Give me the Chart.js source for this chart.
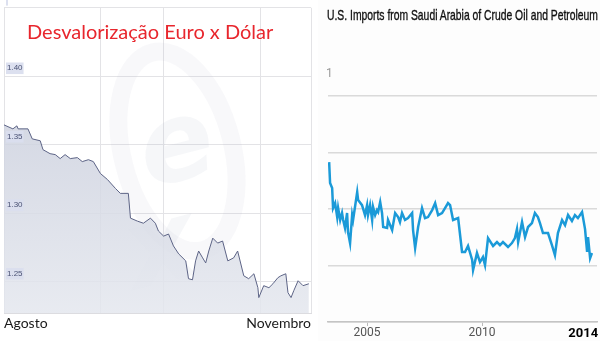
<!DOCTYPE html>
<html>
<head>
<meta charset="utf-8">
<script src="https://cdn.jsdelivr.net/npm/chart.js@4.4.0/dist/chart.umd.min.js"></script>
<style>
  body { margin: 0; width: 600px; height: 341px; position: relative; overflow: hidden; background: #fff; }
  .box { position: absolute; top: 0; height: 341px; }
  #leftBox { left: 0; width: 318px; }
  #rightBox { left: 318px; width: 282px; background: #fdfdfd; }
  .title1 { position: absolute; left: 27px; top: 19px; font: 20px Lato, sans-serif; color: #e8262d; white-space: nowrap; }
  .title2 { position: absolute; left: 327px; top: 6px; width: 273px; overflow: hidden; white-space: nowrap; }
  .title2 span { display: inline-block; transform: scaleX(0.69); transform-origin: 0 0; font: 15px "Liberation Sans", Arial, sans-serif; color: #111; -webkit-text-stroke: 0.35px #111; }
</style>
</head>
<body>
<div class="box" id="leftBox"><canvas id="eurChart"></canvas></div>
<div class="box" id="rightBox"><canvas id="impChart"></canvas></div>
<div class="title1">Desvalorização Euro x Dólar</div>
<div class="title2"><span>U.S. Imports from Saudi Arabia of Crude Oil and Petroleum Products</span></div>
<script>
// left chart: EUR/USD, days since start of August
const eurDays = [0, 2.9, 4.2, 4.6, 7.8, 9.2, 11.8, 12.7, 15.0, 16.7, 18.3, 19.9, 21.6, 23.9, 25.5, 27.5, 29.1,
  31.4, 33.7, 36.3, 37.9, 40.5, 41.2, 43.5, 45.4, 47.7, 49.3, 50.3, 52.0, 53.6, 55.2, 56.9, 59.2, 60.1,
  61.4, 62.4, 63.4, 64.7, 65.7, 66.7, 68.0, 69.6, 71.2, 72.9, 74.8, 76.1, 78.1, 79.7, 81.4, 82.7, 83.0,
  84.6, 86.3, 87.6, 89.2, 90.2, 91.8, 92.5, 93.5, 94.4, 95.8, 97.4, 99.3];
const eurRates = [1.3645, 1.3616, 1.3638, 1.3616, 1.3616, 1.3543, 1.3529, 1.3464, 1.3435, 1.3428, 1.3399, 1.3428, 1.3399, 1.3406, 1.3377, 1.3391, 1.3377,
  1.3290, 1.3246, 1.3181, 1.3145, 1.3145, 1.2964, 1.2942, 1.2927, 1.2964, 1.2927, 1.2870, 1.2833, 1.2848, 1.2761, 1.2703, 1.2652, 1.2522,
  1.2514, 1.2652, 1.2724, 1.2674, 1.2637, 1.2724, 1.2818, 1.2782, 1.2797, 1.2652, 1.2674, 1.2724, 1.2543, 1.2522, 1.2558, 1.2456, 1.2384,
  1.2471, 1.2456, 1.2485, 1.2529, 1.2543, 1.2558, 1.2420, 1.2384, 1.2435, 1.2507, 1.2471, 1.2485];
const eurRateTicks = [1.25, 1.30, 1.35, 1.40];
const eurMonthLabels = ['Agosto', 'Novembro'];
const eurGridDays = [31.4, 52, 83.7];

// right chart: imports, thousand barrels per day
const impYears = [2003.35, 2003.39, 2003.48, 2003.52, 2003.61, 2003.70, 2003.74, 2003.83, 2003.91, 2003.96, 2004.04, 2004.13, 2004.17, 2004.26,
  2004.35, 2004.39, 2004.57, 2004.61, 2004.78, 2004.91, 2005.00, 2005.04, 2005.13, 2005.22, 2005.26, 2005.35, 2005.43, 2005.48, 2005.57,
  2005.65, 2005.70, 2005.87, 2005.91, 2006.09, 2006.22, 2006.35, 2006.43, 2006.52, 2006.65, 2006.78, 2006.96, 2007.00, 2007.09, 2007.22,
  2007.39, 2007.52, 2007.65, 2007.83, 2007.96, 2008.09, 2008.26, 2008.39, 2008.52, 2008.61, 2008.74, 2008.96, 2009.13, 2009.26, 2009.39,
  2009.57, 2009.61, 2009.78, 2009.91, 2010.04, 2010.13, 2010.26, 2010.48, 2010.65, 2010.78, 2010.91, 2011.13, 2011.30, 2011.43, 2011.52,
  2011.57, 2011.74, 2011.87, 2012.00, 2012.17, 2012.30, 2012.43, 2012.52, 2012.65, 2012.87, 2013.04, 2013.17, 2013.30, 2013.48, 2013.61,
  2013.74, 2013.91, 2014.04, 2014.17, 2014.35, 2014.48, 2014.57, 2014.61, 2014.70, 2014.78];
const impValues = [1416, 1230, 1186, 1009, 1053, 929, 1009, 903, 965, 903, 832, 965, 797, 699,
  947, 903, 1151, 1080, 1035, 947, 1035, 947, 1035, 903, 1018, 947, 991, 974, 1062,
  965, 841, 832, 903, 814, 965, 929, 885, 965, 903, 920, 965, 814, 655, 841,
  1009, 920, 929, 991, 1053, 947, 965, 1009, 1053, 1035, 903, 920, 620, 620, 673,
  549, 460, 611, 531, 575, 504, 743, 673, 708, 681, 708, 664, 699, 743, 823,
  708, 885, 752, 841, 876, 965, 929, 876, 788, 788, 681, 593, 788, 903, 858,
  947, 894, 947, 920, 974, 823, 620, 752, 566, 611];
const impGridValues = [0, 500, 1000, 1500, 2000];
const impYearTicks = [2005, 2010, 2014];

// faint "xe" logo behind the area
const xeWatermark = {
  id: 'xeWatermark',
  beforeDatasetsDraw(chart) {
    const { ctx, chartArea } = chart;
    const cx = chartArea.left + chartArea.width * 0.565;
    const cy = chartArea.top + chartArea.height * 0.47;
    ctx.save();
    ctx.translate(cx, cy);
    ctx.rotate(-0.25);
    ctx.strokeStyle = 'rgba(160,168,188,0.08)';
    ctx.lineWidth = 18;
    ctx.beginPath();
    ctx.ellipse(0, 0, 55, 102, 0, 0, Math.PI * 2);
    ctx.stroke();
    ctx.fillStyle = 'rgba(160,168,188,0.09)';
    ctx.font = 'bold italic 110px "DejaVu Sans", sans-serif';
    ctx.textAlign = 'center';
    ctx.textBaseline = 'middle';
    ctx.fillText('e', 0, 0);
    ctx.fillText('x', -40, 95);
    ctx.restore();
  }
};

new Chart(document.getElementById('eurChart'), {
  type: 'line',
  data: {
    datasets: [{
      data: eurDays.map((d, i) => ({ x: d, y: eurRates[i] })),
      borderColor: '#5d6486',
      borderWidth: 1,
      pointRadius: 0,
      tension: 0,
      fill: 'start',
      backgroundColor: (context) => {
        const area = context.chart.chartArea;
        if (!area) return 'rgba(200,204,218,0.8)';
        const g = context.chart.ctx.createLinearGradient(0, area.top, 0, area.bottom);
        g.addColorStop(0, 'rgba(192,197,214,0.85)');
        g.addColorStop(1, 'rgba(228,231,238,0.85)');
        return g;
      }
    }]
  },
  options: {
    responsive: true,
    maintainAspectRatio: false,
    animation: false,
    layout: { padding: { left: -2, right: 7, top: 5, bottom: 7 } },
    plugins: { legend: { display: false }, tooltip: { enabled: false } },
    scales: {
      x: {
        type: 'linear',
        min: 0,
        max: 100,
        afterBuildTicks: (axis) => {
          axis.ticks = [0, ...eurGridDays, 100].map(v => ({ value: v }));
        },
        ticks: {
          autoSkip: false,
          maxRotation: 0,
          align: 'inner',
          padding: 2,
          color: '#1a1a1a',
          font: { family: 'Lato', size: 14 },
          callback: (v) => v === 0 ? eurMonthLabels[0] : (v === 100 ? eurMonthLabels[1] : '')
        },
        grid: { color: '#e3e3e6', drawTicks: false },
        border: { color: '#dcdce0' }
      },
      y: {
        min: 1.227,
        max: 1.45,
        afterBuildTicks: (axis) => {
          axis.ticks = [...eurRateTicks, 1.45].map(v => ({ value: v }));
        },
        ticks: {
          z: 1,
          mirror: true,
          labelOffset: -8,
          padding: 3,
          color: '#4a5274',
          font: { size: 8 },
          showLabelBackdrop: true,
          backdropColor: 'rgba(218,222,238,0.95)',
          backdropPadding: 1,
          callback: (v) => eurRateTicks.includes(v) ? v.toFixed(2) : ''
        },
        grid: { color: '#e3e3e6', drawTicks: false },
        border: { display: false }
      }
    }
  },
  plugins: [xeWatermark]
});

const axisNote = {
  id: 'axisNote',
  afterDraw(chart) {
    const { ctx, chartArea, scales } = chart;
    ctx.save();
    ctx.fillStyle = '#9a9a9a';
    ctx.font = '12px Roboto, sans-serif';
    ctx.textBaseline = 'middle';
    ctx.fillText('1', chartArea.left - 2, scales.y.getPixelForValue(2200));
    ctx.restore();
  }
};

new Chart(document.getElementById('impChart'), {
  type: 'line',
  data: {
    datasets: [{
      data: impYears.map((yr, i) => ({ x: yr, y: impValues[i] })),
      borderColor: '#1b9ad8',
      borderWidth: 2.5,
      pointRadius: 0,
      tension: 0
    }]
  },
  options: {
    responsive: true,
    maintainAspectRatio: false,
    animation: false,
    layout: { padding: { left: 10, right: 3, top: 60, bottom: 0 } },
    plugins: { legend: { display: false }, tooltip: { enabled: false } },
    scales: {
      x: {
        type: 'linear',
        min: 2003.3,
        max: 2015.0,
        afterBuildTicks: (axis) => {
          axis.ticks = impYearTicks.map(v => ({ value: v === 2014 ? 2014.4 : v }));
        },
        ticks: {
          autoSkip: false,
          maxRotation: 0,
          padding: 1,
          color: (c) => c.index === 2 ? '#000' : '#555',
          font: (c) => c.index === 2
            ? { family: 'Roboto', size: 13, weight: 'bold', lineHeight: 1 }
            : { family: 'Roboto', size: 12, lineHeight: 1 },
          callback: (v) => String(Math.floor(v))
        },
        grid: {
          drawOnChartArea: false,
          tickLength: 4,
          tickColor: (c) => c.index === 2 ? 'rgba(0,0,0,0)' : '#bbb'
        },
        border: { color: '#c4c4c4', width: 1.5 }
      },
      y: {
        min: 0,
        max: 2320,
        afterBuildTicks: (axis) => {
          axis.ticks = impGridValues.map(v => ({ value: v }));
        },
        ticks: { display: false },
        grid: { color: '#dadada', lineWidth: 1.5, drawTicks: false },
        border: { display: false }
      }
    }
  },
  plugins: [axisNote]
});
</script>
</body>
</html>
